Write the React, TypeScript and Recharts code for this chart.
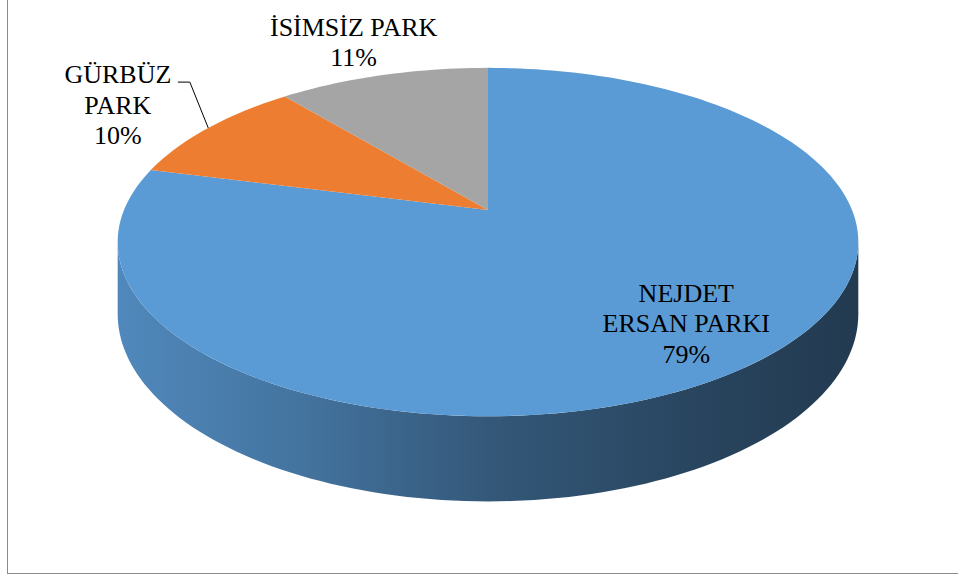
import React from 'react';
import { PieChart, Pie, Cell } from 'recharts';

// park share of visits
const categories = ['NEJDET ERSAN PARKI', 'GÜRBÜZ PARK', 'İSİMSİZ PARK'];
const labelLines = [['NEJDET', 'ERSAN PARKI'], ['GÜRBÜZ', 'PARK'], ['İSİMSİZ PARK']];
const shares = [79, 10, 11];
const colors = ['#5B9BD5', '#ED7D31', '#A5A5A5'];

const data = categories.map((name, i) => ({ name, value: shares[i] }));

// chart geometry (3D look: tilted disc seen in perspective)
const W = 950;
const H = 573;
const CX = 480;
const CY = 210;
const R = 364;
const TILT = 0.4623;
const PERSP = 0.184;
const DEPTH = 0.191;
const FS = 26;
const LH = 30.5;
const FONT = "'Times New Roman', 'Liberation Serif', 'DejaVu Serif', serif";

// label placement per slice: radial factor + nudge
const labelPos = [
  { k: 0.78, dx: 2, dy: -3.5 },
  { k: 1.3, dx: -16, dy: -1.5 },
  { k: 1.3, dx: -3.5, dy: 0 },
];

const rad = (d: number) => (d * Math.PI) / 180;

function proj(cx: number, cy: number, r: number, deg: number, k = 1): [number, number] {
  const u = k * Math.cos(rad(deg));
  const v = k * Math.sin(rad(deg));
  const d = 1 + PERSP * v;
  return [cx + (r * u) / d, cy - (r * TILT * v) / d];
}

function arcPts(cx: number, cy: number, r: number, a0: number, a1: number, drop = false) {
  const n = Math.max(2, Math.ceil(Math.abs(a1 - a0) / 1.5));
  const pts: string[] = [];
  for (let i = 0; i <= n; i++) {
    const a = a0 + ((a1 - a0) * i) / n;
    const [x, y0] = proj(cx, cy, r, a);
    const y = drop ? y0 + (r * DEPTH) / (1 + PERSP * Math.sin(rad(a))) : y0;
    pts.push(`${x.toFixed(2)},${y.toFixed(2)}`);
  }
  return pts;
}

function shade(hex: string, f: number) {
  const n = parseInt(hex.slice(1), 16);
  const c = [(n >> 16) & 255, (n >> 8) & 255, n & 255].map((v) => Math.round(v * f));
  return `rgb(${c[0]},${c[1]},${c[2]})`;
}

function TopShape(props: any) {
  const { cx, cy, outerRadius, startAngle, endAngle, fill } = props;
  const pts = arcPts(cx, cy, outerRadius, startAngle, endAngle);
  return <path d={`M${cx},${cy} L${pts.join(' L')} Z`} fill={fill} stroke="none" />;
}

function SideShape(props: any) {
  const { cx, cy, outerRadius, startAngle, endAngle, fill, index } = props;
  const lo = Math.min(startAngle, endAngle);
  const hi = Math.max(startAngle, endAngle);
  const edge = (Math.asin(PERSP) * 180) / Math.PI;
  const f0 = -180 + edge;
  const f1 = -edge;
  const pieces: [number, number][] = [];
  for (const s of [-360, 0, 360]) {
    const a = Math.max(lo, f0 + s);
    const b = Math.min(hi, f1 + s);
    if (b > a) pieces.push([a, b]);
  }
  const id = `side-grad-${index ?? 0}`;
  return (
    <g>
      <defs>
        <linearGradient id={id} gradientUnits="userSpaceOnUse" x1={cx - outerRadius} x2={cx + outerRadius} y1={0} y2={0}>
          <stop offset="0" stopColor={shade(fill, 0.88)} />
          <stop offset="0.25" stopColor={shade(fill, 0.74)} />
          <stop offset="0.5" stopColor={shade(fill, 0.57)} />
          <stop offset="0.8" stopColor={shade(fill, 0.44)} />
          <stop offset="1" stopColor={shade(fill, 0.38)} />
        </linearGradient>
      </defs>
      {pieces.map(([a, b], i) => {
        const top = arcPts(cx, cy, outerRadius, a, b);
        const bot = arcPts(cx, cy, outerRadius, b, a, true);
        return <path key={i} d={`M${top.join(' L')} L${bot.join(' L')} Z`} fill={`url(#${id})`} stroke="none" />;
      })}
    </g>
  );
}

function renderLabel(props: any) {
  const { cx, cy, midAngle, outerRadius, payload } = props;
  let index = props.index;
  if (index == null) index = categories.indexOf(payload?.name ?? props.name);
  const pos = labelPos[index];
  const [ax0, ay0] = proj(cx, cy, outerRadius, midAngle, pos.k);
  const ax = ax0 + pos.dx;
  const ay = ay0 + pos.dy;
  const lines = [...labelLines[index], `${shares[index]}%`];
  const first = ay - ((lines.length - 1) / 2) * LH + 9;
  let leader = null;
  if (index === 1) {
    const [rx, ry] = proj(cx, cy, outerRadius, midAngle, 1);
    leader = (
      <polyline
        points={`${ax + 60},${first - 1} ${ax + 72},${first - 1} ${rx},${ry}`}
        fill="none"
        stroke="#000"
        strokeWidth={1}
      />
    );
  }
  return (
    <g key={`lbl-${index}`} style={{ fontFamily: FONT }}>
      {leader}
      {lines.map((t, j) => (
        <text
          key={j}
          x={ax}
          y={first + j * LH}
          textAnchor="middle"
          fill="#000"
          fontSize={FS}
          style={{ fontFamily: FONT, fontSize: FS }}
        >
          {t}
        </text>
      ))}
    </g>
  );
}

export default function App() {
  return (
    <div
      style={{
        position: 'absolute',
        left: 7,
        top: -1,
        width: W,
        height: H,
        border: '1px solid #8c8c8c',
        background: '#fff',
        fontFamily: FONT,
      }}
    >
      <PieChart width={W} height={H} margin={{ top: 0, right: 0, bottom: 0, left: 0 }}>
        <Pie
          data={data}
          dataKey="value"
          nameKey="name"
          cx={CX}
          cy={CY}
          outerRadius={R}
          startAngle={90}
          endAngle={-270}
          stroke="none"
          isAnimationActive={false}
          label={false}
          labelLine={false}
          shape={SideShape}
          activeShape={SideShape}
          inactiveShape={SideShape}
        >
          {data.map((d, i) => (
            <Cell key={d.name} fill={colors[i]} />
          ))}
        </Pie>
        <Pie
          data={data}
          dataKey="value"
          nameKey="name"
          cx={CX}
          cy={CY}
          outerRadius={R}
          startAngle={90}
          endAngle={-270}
          stroke="none"
          isAnimationActive={false}
          label={renderLabel}
          labelLine={false}
          shape={TopShape}
          activeShape={TopShape}
          inactiveShape={TopShape}
        >
          {data.map((d, i) => (
            <Cell key={d.name} fill={colors[i]} />
          ))}
        </Pie>
      </PieChart>
    </div>
  );
}
